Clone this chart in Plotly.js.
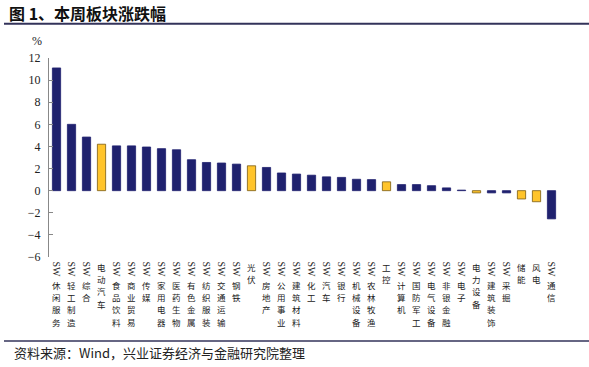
<!DOCTYPE html>
<html>
<head>
<meta charset="utf-8">
<script src="https://cdn.plot.ly/plotly-3.0.1.min.js"></script>
<style>html,body{margin:0;padding:0;background:#fff;}#chart{width:589px;height:367px;}</style>
</head>
<body>
<div id="chart"></div>
<script>
// ---- data ----
const categories = ["SW休闲服务","SW轻工制造","SW综合","电动汽车","SW食品饮料","SW商业贸易","SW传媒","SW家用电器","SW医药生物","SW有色金属","SW纺织服装","SW交通运输","SW钢铁","光伏","SW房地产","SW公用事业","SW建筑材料","SW化工","SW汽车","SW银行","SW机械设备","SW农林牧渔","工控","SW计算机","SW国防军工","SW电气设备","SW非银金融","SW电子","电力设备","SW建筑装饰","SW采掘","储能","风电","SW通信"];
const changes = [11.1, 6.0, 4.85, 4.2, 4.05, 4.05, 3.95, 3.8, 3.7, 2.8, 2.55, 2.5, 2.4, 2.25, 2.1, 1.6, 1.5, 1.4, 1.25, 1.2, 1.03, 1.0, 0.8, 0.55, 0.55, 0.45, 0.25, 0.05, -0.2, -0.2, -0.2, -0.75, -1.0, -2.55];
const yTicks = [-6, -4, -2, 0, 2, 4, 6, 8, 10, 12];
const titleText = "图 1、本周板块涨跌幅";
const unitText = "%";
const sourceText = "资料来源：Wind，兴业证券经济与金融研究院整理";

// ---- styling ----
const NAVY = "#1f216e", YELLOW = "#ffc42b", YELLOW_EDGE = "#7a5a12";
const W = 589, H = 367, L = 49, R = 30, T = 57.5, B = 109.5;
const pw = W - L - R, ph = H - T - B;
const px2x = p => (p - L) / pw;
const py2y = p => (H - B - p) / ph;

const hasSW = categories.map(c => c.startsWith("SW"));
const bodyText = categories.map((c, i) => hasSW[i] ? c.slice(2) : c);
const fillColors = hasSW.map(s => s ? NAVY : YELLOW);
const edgeColors = hasSW.map(s => s ? NAVY : YELLOW_EDGE);
const yMin = Math.min(...yTicks), yMax = Math.max(...yTicks);

const trace = {
  type: "bar",
  x: categories,
  y: changes,
  marker: {color: fillColors, line: {color: edgeColors, width: 0.8}},
  width: 0.55,
  hoverinfo: "x+y"
};

// vertical (stacked) category labels: rotated "SW" prefix + upright Chinese characters
const CHAR_SIZE = 8.5, CHAR_PITCH = 12.4, SW_OFFSET = 4, BODY_OFFSET_SW = 21.5, BODY_OFFSET = 3.5;
const swAnnotations = categories.filter((c, i) => hasSW[i]).map(c => ({
  x: c, xref: "x", y: 0, yref: "paper",
  text: "SW", textangle: 90, showarrow: false, borderpad: 0, borderwidth: 0,
  xanchor: "center", yanchor: "top", yshift: -SW_OFFSET,
  font: {family: "Liberation Serif", size: 10, color: "#222"}
}));
const charAnnotations = [];
categories.forEach((c, i) => {
  Array.from(bodyText[i]).forEach((ch, k) => {
    charAnnotations.push({
      x: c, xref: "x", y: 0, yref: "paper",
      text: ch, showarrow: false, borderpad: 0, borderwidth: 0,
      xanchor: "center", yanchor: "top",
      yshift: -((hasSW[i] ? BODY_OFFSET_SW : BODY_OFFSET) + k * CHAR_PITCH),
      font: {family: "Noto Sans CJK SC", size: CHAR_SIZE, color: "#222"}
    });
  });
});

const layout = {
  width: W, height: H,
  margin: {l: L, r: R, t: T, b: B, pad: 0},
  paper_bgcolor: "#fff", plot_bgcolor: "#fff",
  showlegend: false,
  bargap: 0.45,
  title: {
    text: "<b>" + titleText + "</b>",
    x: 9 / W, xref: "container", xanchor: "left",
    y: 1 - 14 / H, yref: "container", yanchor: "middle",
    font: {family: "Noto Sans CJK SC", size: 16, color: "#111"}
  },
  xaxis: {
    type: "category",
    range: [-0.5, categories.length - 0.5],
    showticklabels: false, ticks: "", showline: false, showgrid: false, zeroline: false
  },
  xaxis2: {
    overlaying: "x", anchor: "free", position: (0 - yMin) / (yMax - yMin),
    type: "linear", range: [-0.5, categories.length - 0.5],
    tickvals: categories.map((c, i) => i + 0.5),
    ticks: "inside", ticklen: 3, tickcolor: "#666", tickwidth: 1,
    showticklabels: false, showline: true, linecolor: "#888", linewidth: 1,
    showgrid: false, zeroline: false, side: "bottom"
  },
  yaxis: {
    range: [yMin, yMax], tickvals: yTicks,
    showline: true, linecolor: "#888", linewidth: 1,
    ticks: "inside", ticklen: 4, tickcolor: "#888",
    showgrid: false, zeroline: false,
    ticklabelstandoff: 5,
    tickfont: {family: "Liberation Serif", size: 12, color: "#222"}
  },
  shapes: [
    {type: "line", xref: "paper", yref: "paper", x0: px2x(4), x1: px2x(589), y0: py2y(23), y1: py2y(23), line: {color: "#33335a", width: 2}},
    {type: "line", xref: "paper", yref: "paper", x0: px2x(4), x1: px2x(589), y0: py2y(342), y1: py2y(342), line: {color: "#33335a", width: 1.5}}
  ],
  annotations: swAnnotations.concat(charAnnotations, [
    {x: px2x(37), xref: "paper", y: py2y(40), yref: "paper", text: unitText, showarrow: false,
     xanchor: "center", yanchor: "middle", font: {family: "Liberation Serif", size: 12, color: "#222"}},
    {x: px2x(12), xref: "paper", y: py2y(353), yref: "paper", text: sourceText, showarrow: false,
     xanchor: "left", yanchor: "middle", font: {family: "Noto Sans CJK SC", size: 13, color: "#222"}}
  ])
};

Plotly.newPlot("chart", [trace], layout, {staticPlot: true, displayModeBar: false});
</script>
</body>
</html>
